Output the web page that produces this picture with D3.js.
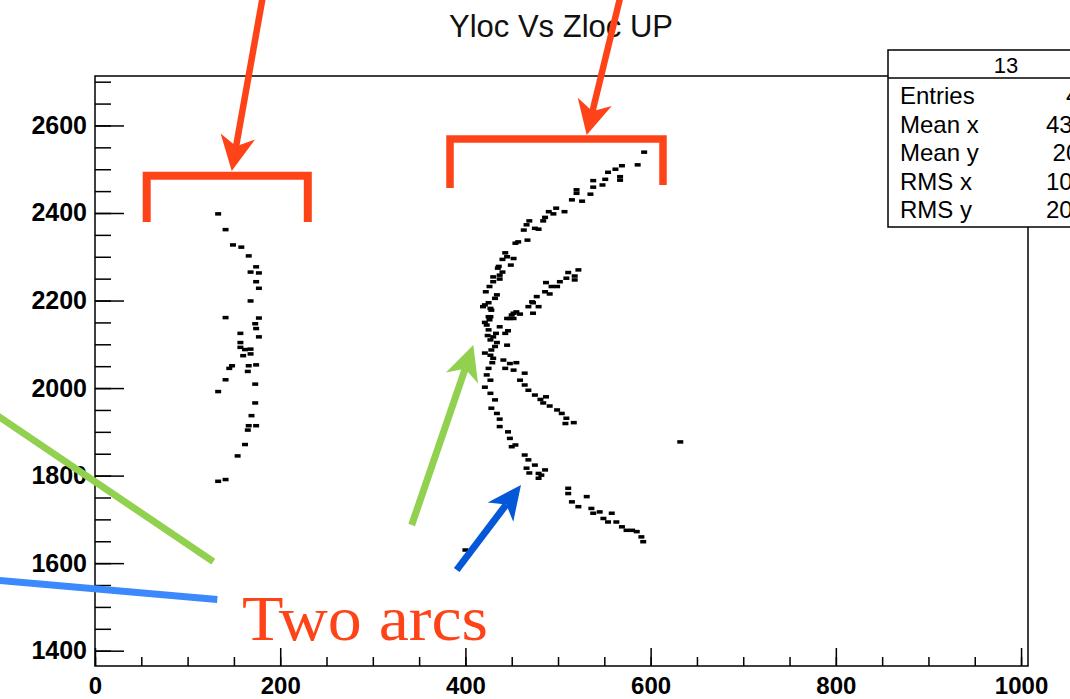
<!DOCTYPE html>
<html>
<head>
<meta charset="utf-8">
<script src="https://cdn.jsdelivr.net/npm/d3@7"></script>
<style>
  html, body { margin: 0; padding: 0; background: #fff; }
  svg { display: block; }
</style>
</head>
<body>
<script>
// ---------------- DATA (Zloc, Yloc) ----------------
const chartTitle = "Yloc Vs Zloc UP";

const leftTrack = [
  [133,2398],[141,2362],[149,2327],[158,2322],[166,2302],[174,2277],[168,2265],[177,2263],
  [174,2243],[177,2228],[168,2199],[141,2161],[177,2160],[173,2147],[174,2136],[157,2125],
  [177,2117],[157,2104],[157,2093],[162,2088],[168,2089],[168,2078],[160,2074],[148,2051],
  [145,2045],[166,2051],[174,2053],[165,2038],[141,2019],[133,1992],[173,2009],[173,1966],
  [169,1937],[166,1914],[174,1914],[165,1904],[162,1871],[154,1845],[133,1787],[141,1791]
];

const upperArc = [
  [593,2539],[586,2510],[569,2508],[562,2500],[554,2493],[567,2483],[567,2475],[551,2477],
  [538,2474],[548,2464],[538,2459],[520,2453],[520,2445],[535,2443],[515,2430],[526,2427],
  [498,2411],[507,2403],[490,2403],[495,2398],[486,2390],[484,2382],[469,2382],[466,2373],
  [475,2365],[479,2363],[463,2361],[467,2338],[457,2334],[454,2331],[443,2309],[445,2300],
  [440,2294],[452,2296],[449,2281],[435,2274],[436,2278],[440,2265],[437,2258],[430,2254],
  [437,2249],[430,2243],[426,2232],[422,2220],[434,2213],[432,2205],[425,2195],[419,2186],
  [428,2178],[427,2163],[421,2190],[427,2182],[425,2163]
];

const innerArm = [
  [522,2270],[518,2256],[511,2264],[509,2251],[502,2243],[518,2247],[487,2241],[493,2232],
  [499,2232],[491,2215],[486,2220],[477,2209],[473,2195],[479,2186],[468,2186],[473,2171],
  [459,2169],[452,2171],[452,2159],[448,2159],[472,2197],[455,2174],[450,2167],[445,2159]
];

const vertexRegion = [
  [423,2144],[425,2133],[437,2140],[446,2131],[443,2125],[430,2117],[427,2110],[434,2104],
  [445,2098],[428,2087],[427,2075],[430,2068],[441,2064],[448,2056],[455,2058],[425,2045],
  [443,2045],[452,2041],[464,2034],[423,2030],[427,2018],[421,2002],[459,2018],[464,2007],
  [468,1995],[475,1984],[481,1974],[487,1980],[484,1966],[427,1988],[432,1973],[491,1959],
  [499,1950],[504,1942],[509,1931],[517,1921],[508,1919],[421,2150],[424,2120],[432,2095],
  [421,2080],[429,2058],[426,2156],[433,2125]
];

const lowerArc = [
  [428,1954],[434,1942],[437,1929],[437,1912],[446,1900],[448,1885],[450,1866],[454,1870],
  [464,1847],[468,1836],[466,1817],[475,1824],[479,1805],[486,1813],[482,1801],[479,1794],
  [469,1806]
];

const lowerTail = [
  [511,1771],[511,1759],[515,1740],[522,1729],[531,1752],[536,1725],[538,1714],[545,1717],
  [549,1702],[558,1714],[554,1694],[563,1694],[569,1683],[574,1675],[580,1675],[585,1672],
  [590,1660],[592,1649]
];

const strayHits = [[400,1630],[632,1877]];

const xMajorTicks = [0,200,400,600,800,1000];
const xMinorTicks = d3.range(0, 1001, 50);
const yMajorTicks = [1400,1600,1800,2000,2200,2400,2600];
const yMinorTicks = d3.range(1400, 2701, 50);

const statsHeader = "13";
const statsLabels = ["Entries","Mean x","Mean y","RMS x","RMS y"];
const statsValues = ["438","434.2","2063","105.1","203.7"];

const annotationText = "Two arcs";

// ---------------- LAYOUT ----------------
const W = 1070, H = 699;
const svg = d3.select("body").append("svg").attr("width", W).attr("height", H);

const x = d3.scaleLinear().domain([0, 1007.5]).range([95, 1028]);
const y = d3.scaleLinear().domain([1365, 2713]).range([666, 76]);

const sans = "'Liberation Sans', Arial, Helvetica, sans-serif";
const RED = "#ff4319", GREEN = "#92d050", BLUE_L = "#3b89fd", BLUE_D = "#0457d6";

// frame
svg.append("rect")
  .attr("x", x(0)).attr("y", y(2713))
  .attr("width", x(1007.5) - x(0)).attr("height", y(1365) - y(2713))
  .attr("fill", "#fff").attr("stroke", "#000").attr("stroke-width", 1.5);

// axes
function styleAxis(size) {
  return g => {
    g.select(".domain").remove();
    g.selectAll("line").attr("stroke", "#000").attr("stroke-width", 1.5);
    g.selectAll("text").attr("fill", "#000")
      .style("font-family", sans).style("font-weight", "bold").style("font-size", size);
  };
}
svg.append("g").attr("transform", `translate(${x(0)},0)`)
  .call(d3.axisLeft(y).tickValues(yMinorTicks).tickSize(-16).tickFormat(""))
  .call(styleAxis("25px"));
svg.append("g").attr("transform", `translate(${x(0)},0)`)
  .call(d3.axisLeft(y).tickValues(yMajorTicks).tickSize(-29).tickPadding(8).tickFormat(d3.format("d")))
  .call(styleAxis("25px"));
svg.append("g").attr("transform", `translate(0,${y(1365)})`)
  .call(d3.axisBottom(x).tickValues(xMinorTicks).tickSize(-9).tickFormat(""))
  .call(styleAxis("24px"));
svg.append("g").attr("transform", `translate(0,${y(1365)})`)
  .call(d3.axisBottom(x).tickValues(xMajorTicks).tickSize(-18).tickPadding(11).tickFormat(d3.format("d")))
  .call(styleAxis("24px"));

// points
const allHits = [].concat(leftTrack, upperArc, innerArm, vertexRegion, lowerArc, lowerTail, strayHits);
svg.append("g").selectAll("rect").data(allHits).join("rect")
  .attr("x", d => x(d[0]) - 3).attr("y", d => y(d[1]) - 1.75)
  .attr("width", 6).attr("height", 3.5).attr("fill", "#000");

// stats box
const sb = svg.append("g");
sb.append("rect").attr("x", 888).attr("y", 50).attr("width", 236).attr("height", 177)
  .attr("fill", "#fff").attr("stroke", "#000").attr("stroke-width", 1.5);
sb.append("line").attr("x1", 888).attr("x2", 1124).attr("y1", 78).attr("y2", 78)
  .attr("stroke", "#000").attr("stroke-width", 1.5);
sb.append("text").attr("x", 1006).attr("y", 73).attr("text-anchor", "middle")
  .style("font-family", sans).style("font-size", "22px").attr("fill", "#000").text(statsHeader);
statsLabels.forEach((lab, i) => {
  const by = 104 + i * 28.6;
  sb.append("text").attr("x", 900).attr("y", by)
    .style("font-family", sans).style("font-size", "24px").attr("fill", "#000").text(lab);
  sb.append("text").attr("x", 1106).attr("y", by).attr("text-anchor", "end")
    .style("font-family", sans).style("font-size", "24px").attr("fill", "#000").text(statsValues[i]);
});

// title
svg.append("text").attr("x", 561).attr("y", 37).attr("text-anchor", "middle")
  .style("font-family", sans).style("font-size", "31px").attr("fill", "#111").text(chartTitle);

// ---------------- ANNOTATIONS (pixel overlays) ----------------
const ann = svg.append("g");
function arrow(tail, tip, w, headLen, hw, color) {
  const dx = tip[0] - tail[0], dy = tip[1] - tail[1];
  const L = Math.hypot(dx, dy), ux = dx / L, uy = dy / L, px = -uy, py = ux;
  const bx = tip[0] - ux * headLen, by = tip[1] - uy * headLen;
  const nx = tip[0] - ux * headLen * 0.72, ny = tip[1] - uy * headLen * 0.72;
  ann.append("line").attr("x1", tail[0]).attr("y1", tail[1]).attr("x2", nx).attr("y2", ny)
    .attr("stroke", color).attr("stroke-width", w);
  ann.append("path")
    .attr("d", `M${tip[0]},${tip[1]}L${bx + px * hw},${by + py * hw}L${nx},${ny}L${bx - px * hw},${by - py * hw}Z`)
    .attr("fill", color);
}
// brackets
ann.append("path").attr("d", "M146.7,222V175.8H307.8V222")
  .attr("fill", "none").attr("stroke", RED).attr("stroke-width", 8).attr("stroke-linejoin", "miter");
ann.append("path").attr("d", "M450,188V139H663V185")
  .attr("fill", "none").attr("stroke", RED).attr("stroke-width", 7.5).attr("stroke-linejoin", "miter");
// arrows
arrow([264, -10], [231.7, 171], 6.5, 35, 17.5, RED);
arrow([622, -10], [586.7, 135], 6.5, 34, 17.5, RED);
arrow([411.7, 525], [473.3, 345], 7, 35, 17, GREEN);
arrow([456.7, 570], [521, 485], 7, 34, 16, BLUE_D);
// left lines
ann.append("line").attr("x1", -5).attr("y1", 414).attr("x2", 213.3).attr("y2", 561.7)
  .attr("stroke", GREEN).attr("stroke-width", 7);
ann.append("line").attr("x1", -5).attr("y1", 580).attr("x2", 217.3).attr("y2", 599.5)
  .attr("stroke", BLUE_L).attr("stroke-width", 7);
// text
ann.append("text").attr("x", 242).attr("y", 640)
  .attr("textLength", 246).attr("lengthAdjust", "spacingAndGlyphs")
  .style("font-family", "'Liberation Serif', 'DejaVu Serif', serif").style("font-size", "63px")
  .attr("fill", RED).text(annotationText);
</script>
</body>
</html>
